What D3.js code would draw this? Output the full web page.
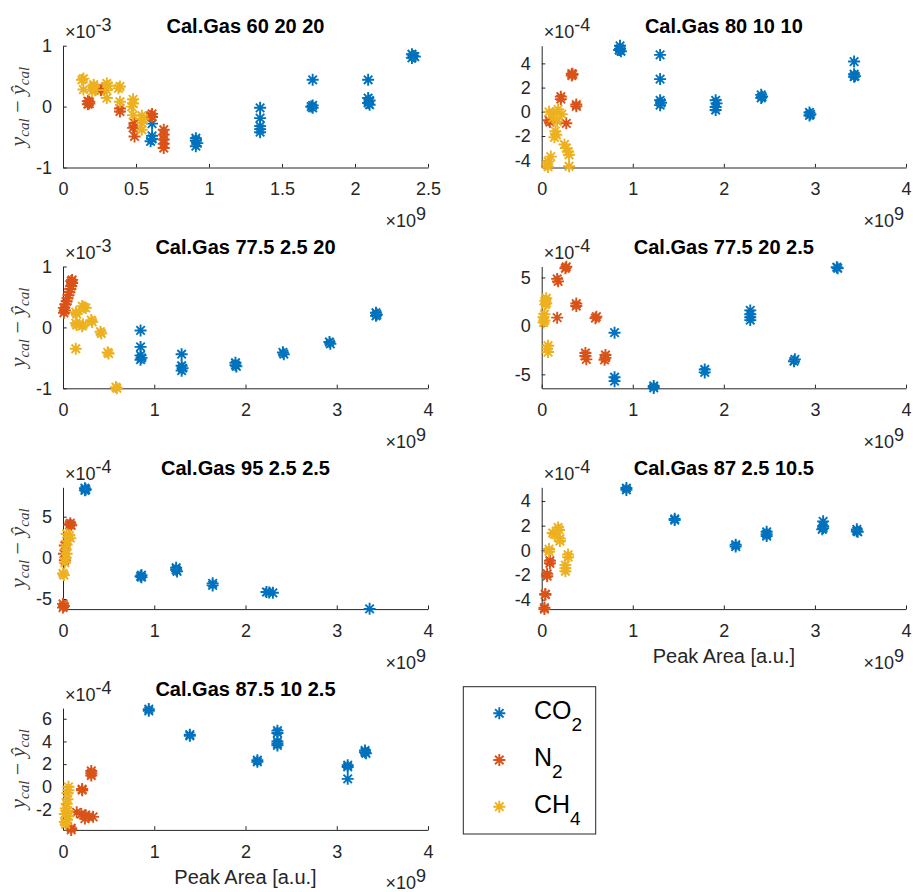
<!DOCTYPE html>
<html>
<head>
<meta charset="utf-8">
<script src="https://cdn.jsdelivr.net/npm/d3@7"></script>
<style>
  html, body { margin: 0; padding: 0; background: #fff; }
  svg { display: block; }
  text { font-family: "Liberation Sans", Arial, Helvetica, sans-serif; fill: #262626; }
</style>
</head>
<body>
<script>
// Calibration residuals (y_cal - ŷ_cal) against peak area for seven calibration gases.
// Peak area in units of 1e9, residuals in units of the panel exponent (1e-3 or 1e-4).

const seriesNames = ["CO2", "N2", "CH4"];
const seriesColors = ["#0072BD", "#D95319", "#EDB120"];

const titles = [
  "Cal.Gas 60 20 20", "Cal.Gas 80 10 10", "Cal.Gas 77.5 2.5 20", "Cal.Gas 77.5 20 2.5",
  "Cal.Gas 95 2.5 2.5", "Cal.Gas 87 2.5 10.5", "Cal.Gas 87.5 10 2.5"
];
const yExponents = [-3, -4, -3, -4, -4, -4, -4];
const xTicksShort = [0, 0.5, 1, 1.5, 2, 2.5];
const xTicksLong = [0, 1, 2, 3, 4];
const yTicks = [
  [-1, 0, 1], [-4, -2, 0, 2, 4], [-1, 0, 1], [-5, 0, 5],
  [-5, 0, 5], [-4, -2, 0, 2, 4], [-2, 0, 2, 4, 6]
];
const yLimits = [
  [-1, 1], [-4.6, 5.46], [-1, 1], [-6.44, 6.13],
  [-6.23, 8.57], [-4.77, 5.11], [-3.8, 6.94]
];

// Cal.Gas 60 20 20 (×1e-3)
const co2_a = [[2.39,0.86],[2.40,0.83],[2.39,0.80],[2.41,0.82],[2.09,0.44],
  [2.09,0.14],[2.10,0.10],[2.09,0.06],[2.10,0.03],[1.71,0.44],[1.71,0.02],[1.71,-0.02],[1.70,0.0],
  [1.35,-0.02],[1.35,-0.19],[1.35,-0.32],[1.35,-0.37],[1.35,-0.42],
  [0.91,-0.52],[0.91,-0.56],[0.92,-0.60],[0.91,-0.65],[0.61,-0.28],[0.61,-0.48],[0.61,-0.53],[0.60,-0.57]];
const n2_a = [[0.17,0.04],[0.18,0.08],[0.18,0.05],[0.17,0.09],[0.27,0.30],[0.26,0.27],
  [0.39,-0.03],[0.39,-0.08],[0.49,-0.27],[0.49,-0.32],[0.48,-0.35],[0.49,-0.49],
  [0.61,-0.12],[0.61,-0.17],[0.60,-0.15],[0.69,-0.38],[0.69,-0.46],[0.69,-0.54],[0.69,-0.61],[0.69,-0.68]];
const ch4_a = [[0.14,0.46],[0.13,0.44],[0.14,0.28],[0.21,0.36],[0.21,0.33],[0.22,0.27],[0.20,0.25],
  [0.30,0.38],[0.31,0.34],[0.30,0.27],[0.30,0.14],[0.39,0.33],[0.38,0.30],[0.39,0.08],
  [0.48,0.12],[0.48,0.05],[0.47,0.0],[0.48,-0.14],[0.54,-0.15],[0.55,-0.20],[0.54,-0.27],[0.54,-0.38]];

// Cal.Gas 80 10 10 (×1e-4)
const co2_b = [[0.86,5.45],[0.86,5.2],[0.87,5.0],[0.85,5.1],[1.30,4.7],[1.30,2.7],
  [1.30,0.95],[1.31,0.75],[1.30,0.55],[1.91,0.95],[1.92,0.7],[1.91,0.4],[1.91,0.15],
  [2.41,1.4],[2.42,1.25],[2.41,1.15],[2.94,-0.05],[2.95,-0.2],[2.94,-0.3],
  [3.43,4.15],[3.43,3.1],[3.44,2.95],[3.43,2.9]];
const n2_b = [[0.33,3.15],[0.33,3.0],[0.34,3.1],[0.21,1.25],[0.21,1.05],[0.38,0.6],[0.38,0.45],
  [0.08,-0.7],[0.09,-0.85],[0.27,-0.95]];
const ch4_b = [[0.08,0.0],[0.13,-0.1],[0.18,0.2],[0.22,-0.2],[0.12,-0.5],[0.17,-0.8],
  [0.15,-1.6],[0.16,-1.9],[0.14,-2.1],[0.25,-2.7],[0.27,-3.0],[0.29,-3.3],[0.30,-3.55],
  [0.10,-3.7],[0.07,-4.1],[0.06,-4.35],[0.07,-4.55],[0.30,-4.5]];

// Cal.Gas 77.5 2.5 20 (×1e-3)
const co2_c = [[0.85,-0.05],[0.85,-0.32],[0.85,-0.46],[0.86,-0.50],[0.85,-0.53],
  [1.30,-0.44],[1.30,-0.63],[1.31,-0.67],[1.30,-0.71],[1.89,-0.58],[1.89,-0.62],[1.90,-0.64],
  [2.41,-0.41],[2.42,-0.44],[2.92,-0.24],[2.93,-0.27],[3.43,0.24],[3.44,0.21],[3.43,0.19]];
const n2_c = [[0.01,0.24],[0.02,0.28],[0.01,0.32],[0.03,0.38],[0.04,0.43],[0.05,0.48],[0.06,0.53],
  [0.07,0.58],[0.08,0.63],[0.09,0.68],[0.10,0.73],[0.10,0.78],[0.09,0.76]];
const ch4_c = [[0.14,0.25],[0.15,0.22],[0.21,0.35],[0.23,0.33],[0.25,0.32],
  [0.14,0.07],[0.15,0.04],[0.21,0.02],[0.22,0.05],[0.31,0.12],[0.32,0.09],
  [0.41,-0.07],[0.42,-0.10],[0.49,-0.41],[0.50,-0.43],[0.14,-0.35],[0.58,-0.98],[0.59,-1.0]];

// Cal.Gas 77.5 20 2.5 (×1e-4)
const co2_d = [[3.24,6.05],[3.25,5.95],[2.29,1.6],[2.29,1.2],[2.29,0.9],[2.29,0.6],
  [2.78,-3.45],[2.77,-3.65],[1.79,-4.5],[1.79,-4.8],[1.23,-6.2],[1.23,-6.4],
  [0.80,-0.7],[0.80,-5.3],[0.80,-5.7]];
const n2_d = [[0.27,6.1],[0.26,5.95],[0.17,4.85],[0.18,4.6],[0.17,0.85],[0.38,2.3],[0.38,2.05],
  [0.60,0.95],[0.59,0.8],[0.48,-2.8],[0.48,-3.1],[0.49,-3.45],[0.70,-3.0],[0.70,-3.3],[0.69,-3.5]];
const ch4_d = [[0.05,2.85],[0.04,2.6],[0.05,2.35],[0.04,2.2],[0.03,1.2],[0.02,0.9],[0.03,0.55],[0.02,0.35],
  [0.07,-2.05],[0.06,-2.35],[0.07,-2.7]];

// Cal.Gas 95 2.5 2.5 (×1e-4)
const co2_e = [[0.24,8.45],[0.24,8.2],[0.25,8.3],[0.86,-2.1],[0.86,-2.35],[0.85,-2.25],
  [1.24,-1.2],[1.24,-1.45],[1.25,-1.65],[1.64,-3.1],[1.64,-3.35],
  [2.23,-4.15],[2.30,-4.25],[2.26,-4.2],[3.36,-6.2]];
const n2_e = [[0.08,4.2],[0.09,3.95],[0.07,4.0],[0.02,1.5],[0.01,0.5],[0.02,-0.3],
  [0.0,-5.6],[0.01,-5.85],[0.0,-6.05]];
const ch4_e = [[0.04,2.9],[0.07,2.7],[0.08,2.4],[0.05,2.1],[0.04,1.6],[0.03,1.0],[0.04,0.5],
  [0.03,0.0],[0.02,-0.6],[0.0,-1.9],[0.01,-2.1]];

// Cal.Gas 87 2.5 10.5 (×1e-4)
const co2_f = [[0.93,5.05],[0.93,4.9],[1.46,2.55],[1.46,2.45],[2.13,0.45],[2.13,0.3],
  [2.47,1.5],[2.47,1.3],[2.47,1.15],[3.09,2.35],[3.09,1.95],[3.09,1.8],[3.08,1.7],
  [3.46,1.7],[3.46,1.55],[3.47,1.5]];
const n2_f = [[0.09,-0.85],[0.09,-1.05],[0.06,-1.9],[0.06,-2.1],[0.04,-3.55],[0.04,-3.6],
  [0.03,-4.65],[0.03,-4.77]];
const ch4_f = [[0.18,1.85],[0.19,1.65],[0.12,1.4],[0.14,1.3],[0.20,0.95],[0.20,0.75],
  [0.08,0.1],[0.08,-0.1],[0.29,-0.35],[0.29,-0.55],[0.26,-1.2],[0.26,-1.45],[0.26,-1.7]];

// Cal.Gas 87.5 10 2.5 (×1e-4)
const co2_g = [[0.94,6.85],[0.94,6.7],[1.39,4.6],[1.39,4.5],[2.13,2.35],[2.13,2.2],
  [2.35,4.95],[2.35,4.75],[2.35,4.0],[2.35,3.8],[2.35,3.65],[3.12,1.9],[3.12,1.75],[3.12,0.7],
  [3.31,3.2],[3.31,3.05],[3.32,2.95]];
const n2_g = [[0.31,1.4],[0.31,1.2],[0.31,1.0],[0.21,-0.2],[0.21,-0.3],
  [0.15,-2.25],[0.20,-2.4],[0.25,-2.5],[0.28,-2.65],[0.33,-2.65],[0.24,-2.8],[0.09,-3.65],[0.09,-3.8]];
const ch4_g = [[0.06,0.0],[0.06,-0.3],[0.05,-0.55],[0.05,-1.1],[0.04,-1.5],[0.03,-1.9],[0.05,-2.1],
  [0.02,-2.4],[0.06,-2.6],[0.04,-2.9],[0.02,-3.1],[0.03,-3.3]];

const panelSeries = [
  [co2_a, n2_a, ch4_a], [co2_b, n2_b, ch4_b], [co2_c, n2_c, ch4_c], [co2_d, n2_d, ch4_d],
  [co2_e, n2_e, ch4_e], [co2_f, n2_f, ch4_f], [co2_g, n2_g, ch4_g]
];

// ---- layout ----
const W = 913, H = 892;
const colX = [63, 541.7], colW = [365, 364.3];
const rowTop0 = 45.7, rowStep = 220.8, axH = 121.8;
const tickFont = 18, titleFont = 20, labelFont = 20;
const axisColor = "#262626";
const tickLen = 3.65;

const svg = d3.select("body").append("svg")
  .attr("width", W).attr("height", H)
  .attr("viewBox", `0 0 ${W} ${H}`);
svg.append("rect").attr("width", W).attr("height", H).attr("fill", "#fff");

// 8-armed asterisk marker
function asterisk(r) {
  const a = r * 0.7071;
  return `M${-r},0H${r}M0,${-r}V${r}M${-a},${-a}L${a},${a}M${-a},${a}L${a},${-a}`;
}
const markerPath = asterisk(6);
const markerStroke = 1.9;

function exponentLabel(g, x, y, base, exp, anchor) {
  const t = g.append("text")
    .attr("x", x).attr("y", y)
    .attr("text-anchor", anchor)
    .style("font-size", tickFont + "px");
  t.append("tspan").text(base);
  t.append("tspan").attr("dy", -7).text(exp);
  return t;
}

titles.forEach((title, i) => {
  const col = i % 2, row = Math.floor(i / 2);
  const x0 = colX[col], w = colW[col];
  const y0 = rowTop0 + row * rowStep;
  const xMax = i === 0 ? 2.5 : 4;
  const xt = i === 0 ? xTicksShort : xTicksLong;

  const x = d3.scaleLinear().domain([0, xMax]).range([0, w]);
  const y = d3.scaleLinear().domain(yLimits[i]).range([axH, 0]);

  const g = svg.append("g").attr("transform", `translate(${x0},${y0})`);

  // axes (box off, ticks pointing inward)
  const xAxis = d3.axisBottom(x).tickValues(xt).tickFormat(d => String(d))
    .tickSizeInner(-tickLen).tickSizeOuter(0).tickPadding(15);
  const yAxis = d3.axisLeft(y).tickValues(yTicks[i]).tickFormat(d => String(d))
    .tickSizeInner(-tickLen).tickSizeOuter(0).tickPadding(11);

  const gx = g.append("g").attr("transform", `translate(0,${axH})`).call(xAxis);
  const gy = g.append("g").call(yAxis);
  [gx, gy].forEach(a => {
    a.select(".domain").attr("stroke", axisColor).attr("stroke-width", 1);
    a.selectAll(".tick line").attr("stroke", axisColor).attr("stroke-width", 1);
    a.selectAll(".tick text").attr("fill", axisColor)
      .style("font-size", tickFont + "px")
      .style("font-family", '"Liberation Sans", Arial, sans-serif');
  });

  // markers
  panelSeries[i].forEach((pts, s) => {
    g.append("g")
      .attr("fill", "none")
      .attr("stroke", seriesColors[s])
      .attr("stroke-width", markerStroke)
      .selectAll("path")
      .data(pts)
      .join("path")
      .attr("d", markerPath)
      .attr("transform", d => `translate(${x(d[0])},${y(d[1])})`);
  });

  // title
  g.append("text")
    .attr("x", w / 2).attr("y", -12.4)
    .attr("text-anchor", "middle")
    .style("font-size", titleFont + "px")
    .style("font-weight", "bold")
    .style("fill", "#000")
    .text(title);

  // exponent on the y axis
  exponentLabel(g, 2, -7.5, "×10", String(yExponents[i]), "start");

  // exponent on the x axis
  exponentLabel(g, w - 2, axH + 59.5, "×10", "9", "end");

  // x label on the bottom panel of each column
  if (i === 5 || i === 6) {
    g.append("text")
      .attr("x", w / 2).attr("y", axH + 54.3)
      .attr("text-anchor", "middle")
      .style("font-size", labelFont + "px")
      .text("Peak Area [a.u.]");
  }

  // y label on the left column
  if (col === 0) {
    const yl = g.append("text")
      .attr("transform", `translate(${25 - x0},${axH / 2}) rotate(-90)`)
      .attr("text-anchor", "middle")
      .style("font-family", '"Liberation Serif", "Times New Roman", serif')
      .style("font-size", "22px")
      .style("fill", "#3a3a3a");
    yl.append("tspan").style("font-style", "italic").text("y");
    yl.append("tspan").style("font-style", "italic").style("font-size", "15px").attr("dy", 4).text("cal");
    yl.append("tspan").attr("dy", -4).text(" \u2212 ");
    yl.append("tspan").style("font-style", "italic").text("\u0177");
    yl.append("tspan").style("font-style", "italic").style("font-size", "15px").attr("dy", 4).text("cal");
  }
});

// ---- legend ----
const leg = svg.append("g").attr("transform", "translate(463.3,686.7)");
leg.append("rect")
  .attr("width", 132.4).attr("height", 147.3)
  .attr("fill", "#fff").attr("stroke", axisColor).attr("stroke-width", 1);

const legendSubs = ["2", "2", "4"];
const legendMain = ["CO", "N", "CH"];
seriesNames.forEach((name, s) => {
  const cy = 26.6 + s * 46.7;
  leg.append("path")
    .attr("d", markerPath)
    .attr("transform", `translate(36,${cy})`)
    .attr("fill", "none")
    .attr("stroke", seriesColors[s])
    .attr("stroke-width", markerStroke);
  const t = leg.append("text")
    .attr("x", 70.7).attr("y", cy + 6)
    .style("font-size", "25px")
    .style("fill", "#000");
  t.append("tspan").text(legendMain[s]);
  t.append("tspan").attr("dy", 12).style("font-size", "19px").text(legendSubs[s]);
});
</script>
</body>
</html>
